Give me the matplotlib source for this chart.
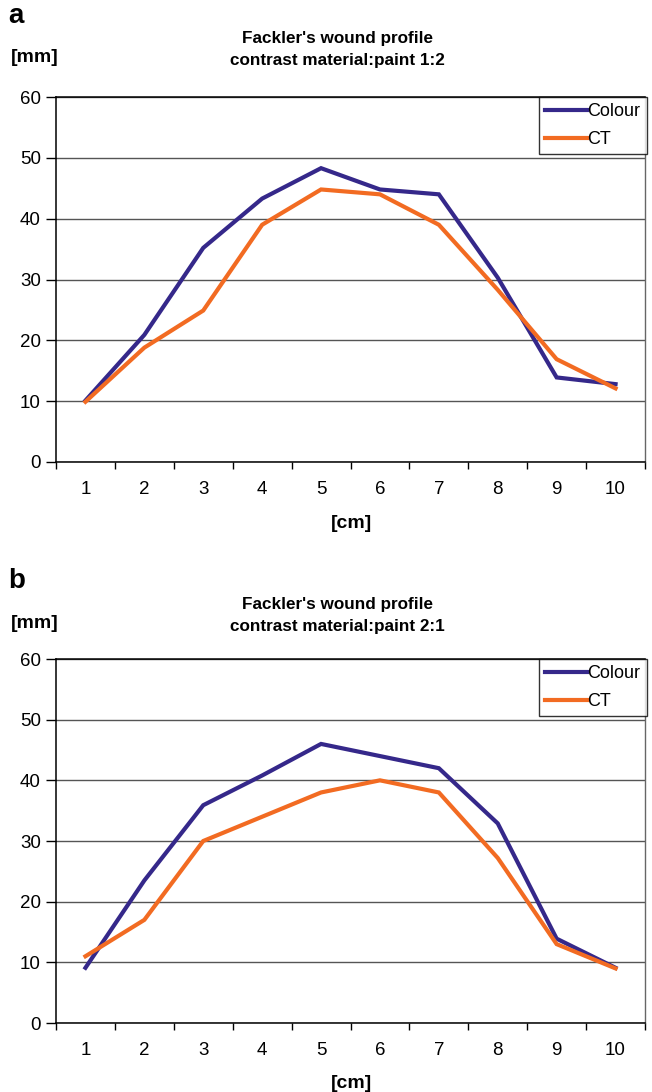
import matplotlib.pyplot as plt

plt.rcParams['font.family'] = ['Liberation Sans', 'DejaVu Sans']

positions = [1, 2, 3, 4, 5, 6, 7, 8, 9, 10]
tick_labels = ['1', '2', '3', '4', '5', '6', '7', '8', '9', '10']

# panel a: contrast material:paint 1:2
colour_a = [10.1, 20.9, 35.2, 43.3, 48.3, 44.8, 44.0, 30.3, 13.9, 12.8]
ct_a = [9.9, 18.8, 24.9, 39.0, 44.8, 44.0, 39.0, 28.3, 16.9, 12.1]

# panel b: contrast material:paint 2:1
colour_b = [9.1, 23.5, 35.9, 40.8, 46.0, 44.0, 42.0, 32.9, 13.9, 9.1]
ct_b = [11.0, 17.0, 30.0, 34.0, 38.0, 40.0, 38.0, 27.2, 13.0, 9.0]

panels = [
    ('a', 'contrast material:paint 1:2', colour_a, ct_a),
    ('b', 'contrast material:paint 2:1', colour_b, ct_b),
]

W, H = 652, 1092
fig = plt.figure(figsize=(W / 100, H / 100), dpi=100)

# axes boxes in pixels: left, top, right, bottom
boxes = [(56, 97, 645, 462), (56, 659, 645, 1023)]
tops = [0, 565]

for (letter, subtitle, colour, ct), box, t in zip(panels, boxes, tops):
    l, tp, r, b = box
    ax = fig.add_axes([l / W, 1 - b / H, (r - l) / W, (b - tp) / H])
    ax.plot(positions, colour, color='#35288a', lw=3.0, label='Colour',
            solid_joinstyle='miter', zorder=3)
    ax.plot(positions, ct, color='#f26b22', lw=3.0, label='CT',
            solid_joinstyle='miter', zorder=3)
    ax.set_xlim(0.5, 10.5)
    ax.set_ylim(0, 60)
    ax.set_yticks(range(0, 61, 10))
    ax.yaxis.grid(True, color='#555555', lw=1.0)
    ax.set_axisbelow(True)
    # ticks sit between categories, labels centred on them
    ax.set_xticks([p - 0.5 for p in positions] + [10.5])
    ax.set_xticklabels([])
    ax.set_xticks(positions, minor=True)
    ax.set_xticklabels(tick_labels, minor=True)
    ax.tick_params(axis='x', which='minor', length=0, pad=14, labelsize=13.5)
    ax.tick_params(axis='x', which='major', length=5, width=1, direction='out')
    ax.tick_params(axis='y', length=7, width=1, labelsize=13.5, pad=4)
    for s in ['left', 'bottom', 'top']:
        ax.spines[s].set_color('black')
        ax.spines[s].set_linewidth(1.1)
    ax.spines['right'].set_color('#666666')
    ax.spines['right'].set_linewidth(1.0)
    leg = ax.legend(loc='upper right', bbox_to_anchor=(1.003, 1.0), fontsize=13,
                    frameon=True, fancybox=False, edgecolor='black',
                    handlelength=2.3, handletextpad=0.05, borderpad=0.35,
                    labelspacing=0.6, borderaxespad=0)
    leg.get_frame().set_linewidth(1.0)

    fig.text(8 / W, 1 - (t + 16) / H, letter, fontsize=20, fontweight='bold',
             va='center', ha='left')
    fig.text(337 / W, 1 - (t + 39) / H, "Fackler's wound profile", fontsize=12.3,
             fontweight='bold', va='center', ha='center')
    fig.text(337 / W, 1 - (t + 61) / H, subtitle, fontsize=12.3,
             fontweight='bold', va='center', ha='center')
    fig.text(11 / W, 1 - (t + 58) / H, '[mm]', fontsize=14, fontweight='bold',
             va='center', ha='left')
    fig.text(352 / W, 1 - (b + 61) / H, '[cm]', fontsize=14, fontweight='bold',
             va='center', ha='center')

fig.savefig('out.png', dpi=100)
